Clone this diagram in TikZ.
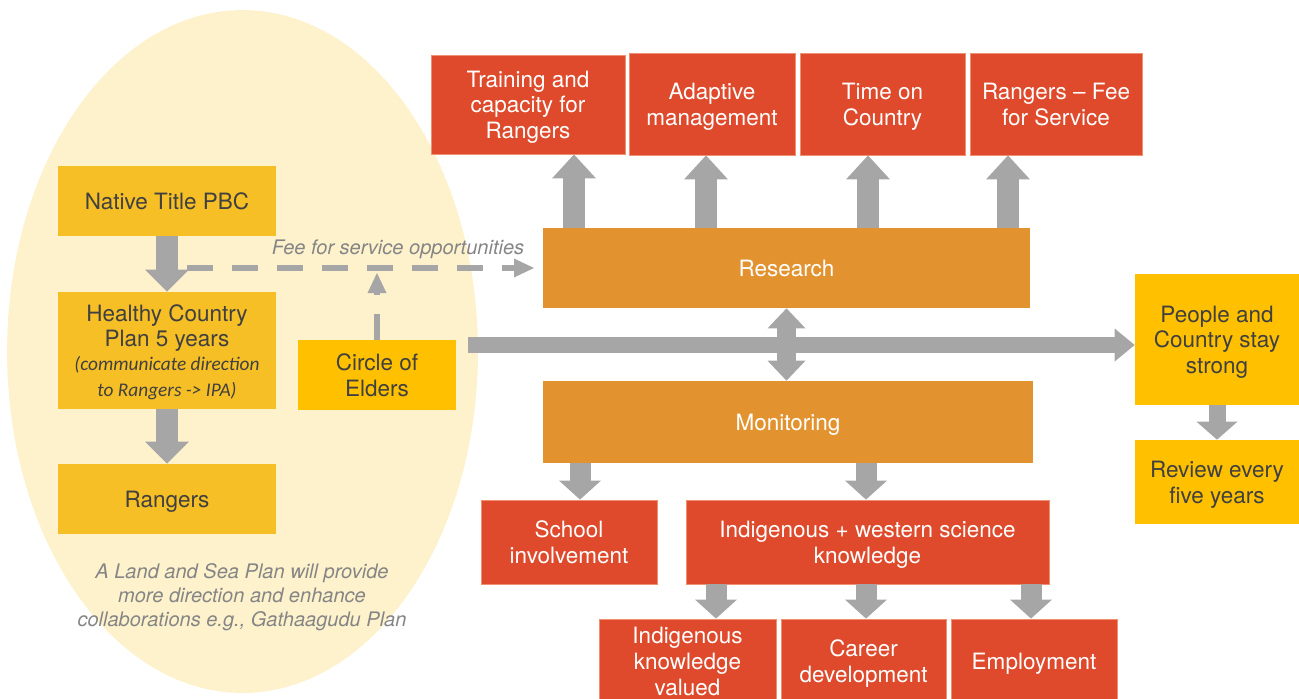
\documentclass[tikz,border=0pt]{standalone}
\usepackage{fontspec}
\setmainfont{TeX Gyre Heros}
\newfontfamily\calibfont{Carlito}
\usetikzlibrary{arrows.meta}
\definecolor{ellfill}{HTML}{FEF2CC}
\definecolor{gold}{HTML}{F6BF26}
\definecolor{amber}{HTML}{FFC000}
\definecolor{orng}{HTML}{E2932F}
\definecolor{redbox}{HTML}{DE4A2B}
\definecolor{rededge}{HTML}{F09070}
\definecolor{agray}{HTML}{A6A6A6}
\definecolor{darktext}{HTML}{404040}
\definecolor{labgray}{HTML}{858585}
\newcommand\bxstrut{\rule[-3pt]{0pt}{15.6pt}}
\begin{document}
\begin{tikzpicture}[x=0.02cm,y=-0.02cm,
  box/.style={rectangle, inner sep=0pt, align=center, font=\fontsize{12.8}{14.6}\selectfont,
    execute at end node=\bxstrut},
  ybox/.style={box, fill=gold, text=darktext},
  abox/.style={box, fill=amber, text=darktext},
  obox/.style={box, fill=orng, text=white},
  rbox/.style={box, fill=redbox, draw=rededge, line width=0.5pt, text=white},
  wh/.style 2 args={minimum width=#1, minimum height=#2},
  garrow/.style={draw=agray, line width=0.44cm, -{Triangle[width=0.88cm,length=0.44cm,line width=0pt]}},
  tarrow/.style={draw=agray, line width=0.44cm, -{Triangle[width=0.88cm,length=0.48cm,line width=0pt]}},
  marrow/.style={draw=agray, line width=0.42cm, -{Triangle[width=0.84cm,length=0.38cm,line width=0pt]}},
  dasharrow/.style={draw=agray, line width=0.12cm, dash pattern=on 0.52cm off 0.38cm, -{Triangle[width=0.38cm,length=0.40cm,line width=0pt]}},
  italab/.style={font=\itshape\fontsize{11.4}{13.6}\selectfont, text=labgray, align=center, inner sep=0pt}
]
\useasboundingbox (0,0) rectangle (1299,698);
\clip (0,0) rectangle (1299,698);

% background ellipse
\fill[ellfill] (242.5,351.5) ellipse [x radius=4.71cm, y radius=6.83cm];

% left column
\node[ybox, wh={4.36cm}{1.40cm}] (nt) at (167,201) {\bxstrut Native Title PBC};
\node[ybox, wh={4.36cm}{2.34cm}] (hcp) at (167,350.5) {\bxstrut Healthy Country\\Plan 5 years\\[-1pt]{\calibfont\itshape\fontsize{11}{14}\selectfont (communicate direction}\\{\calibfont\itshape\fontsize{11}{14}\selectfont to Rangers -> IPA)}};
\node[ybox, wh={4.36cm}{1.40cm}] (rg) at (167,499) {\bxstrut Rangers};
\node[abox, wh={3.16cm}{1.40cm}] (coe) at (377,375) {\bxstrut Circle of\\Elders};

% centre
\node[obox, wh={9.74cm}{1.60cm}] (res) at (786.5,268) {\bxstrut Research};
\node[obox, wh={9.80cm}{1.64cm}] (mon) at (788,422) {\bxstrut Monitoring};

% top row
\node[rbox, wh={3.88cm}{1.98cm}] (t1) at (528,104.5) {\bxstrut Training and\\capacity for\\Rangers};
\node[rbox, wh={3.32cm}{2.04cm}] (t2) at (712,104) {\bxstrut Adaptive\\management};
\node[rbox, wh={3.30cm}{2.04cm}] (t3) at (882.5,104) {\bxstrut Time on\\Country};
\node[rbox, wh={3.44cm}{2.04cm}] (t4) at (1056,104) {\bxstrut Rangers -- Fee\\for Service};

% right column
\node[abox, wh={3.28cm}{2.62cm}] (pcs) at (1217,339.5) {\bxstrut People and\\Country stay\\strong};
\node[abox, wh={3.28cm}{1.68cm}] (rev) at (1217,482) {\bxstrut Review every\\five years};

% lower rows
\node[rbox, wh={3.52cm}{1.68cm}] (sch) at (569,542) {\bxstrut School\\involvement};
\node[rbox, wh={7.26cm}{1.68cm}] (iws) at (867.5,542) {\bxstrut Indigenous + western science\\knowledge};
\node[rbox, wh={3.54cm}{1.68cm}] (ikv) at (687.5,661) {\bxstrut Indigenous\\knowledge\\valued};
\node[rbox, wh={3.30cm}{1.68cm}] (cd) at (863.5,661) {\bxstrut Career\\development};
\node[rbox, wh={3.32cm}{1.68cm}] (emp) at (1034,661) {\bxstrut Employment};

% labels
\node[italab] (fee) at (398,249) {Fee for service opportunities};
\node[italab] (lsp) at (242,597) {A Land and Sea Plan will provide\\more direction and enhance\\collaborations e.g., Gathaagudu Plan};

% helper coordinates
\coordinate (a1) at (574,0);
\coordinate (a2) at (706,0);
\coordinate (a3) at (868,0);
\coordinate (a4) at (1008,0);
\coordinate (m1) at (580,0);
\coordinate (m2) at (866,0);
\coordinate (b1) at (716,0);
\coordinate (b2) at (866,0);
\coordinate (b3) at (1031,0);
\coordinate (ds) at (187,268);
\coordinate (de) at (534,268);
\coordinate (ce) at (377,273);
\coordinate (hs) at (468,345);

% left arrows
\draw[garrow] (nt.south) -- (hcp.north);
\draw[garrow] (hcp.south) -- (rg.north);

% dashed arrows
\draw[dasharrow] (ds) -- (de);
\draw[dasharrow] (coe.north) -- (ce);

% top arrows
\draw[tarrow] (res.north -| a1) -- (t1.south -| a1);
\draw[tarrow] (res.north -| a2) -- (t2.south -| a2);
\draw[tarrow] (res.north -| a3) -- (t3.south -| a3);
\draw[tarrow] (res.north -| a4) -- (t4.south -| a4);

% main horizontal arrow
\draw[draw=agray, line width=0.32cm, -{Triangle[width=0.66cm,length=0.40cm,line width=0pt]}] (hs) -- (hs -| pcs.west);

% double arrow research <-> monitoring
\draw[draw=agray, line width=0.38cm, {Triangle[width=0.76cm,length=0.40cm,line width=0pt]}-{Triangle[width=0.76cm,length=0.40cm,line width=0pt]}] (res.south) -- (res.south |- mon.north);

% monitoring arrows
\draw[marrow] (mon.south -| m1) -- (sch.north -| m1);
\draw[marrow] (mon.south -| m2) -- (iws.north -| m2);
\draw[marrow] (iws.south -| b1) -- (ikv.north -| b1);
\draw[marrow] (iws.south -| b2) -- (cd.north -| b2);
\draw[marrow] (iws.south -| b3) -- (emp.north -| b3);

% right arrow
\draw[draw=agray, line width=0.34cm, -{Triangle[width=0.82cm,length=0.36cm,line width=0pt]}] (pcs.south) -- (rev.north);
\end{tikzpicture}
\end{document}
